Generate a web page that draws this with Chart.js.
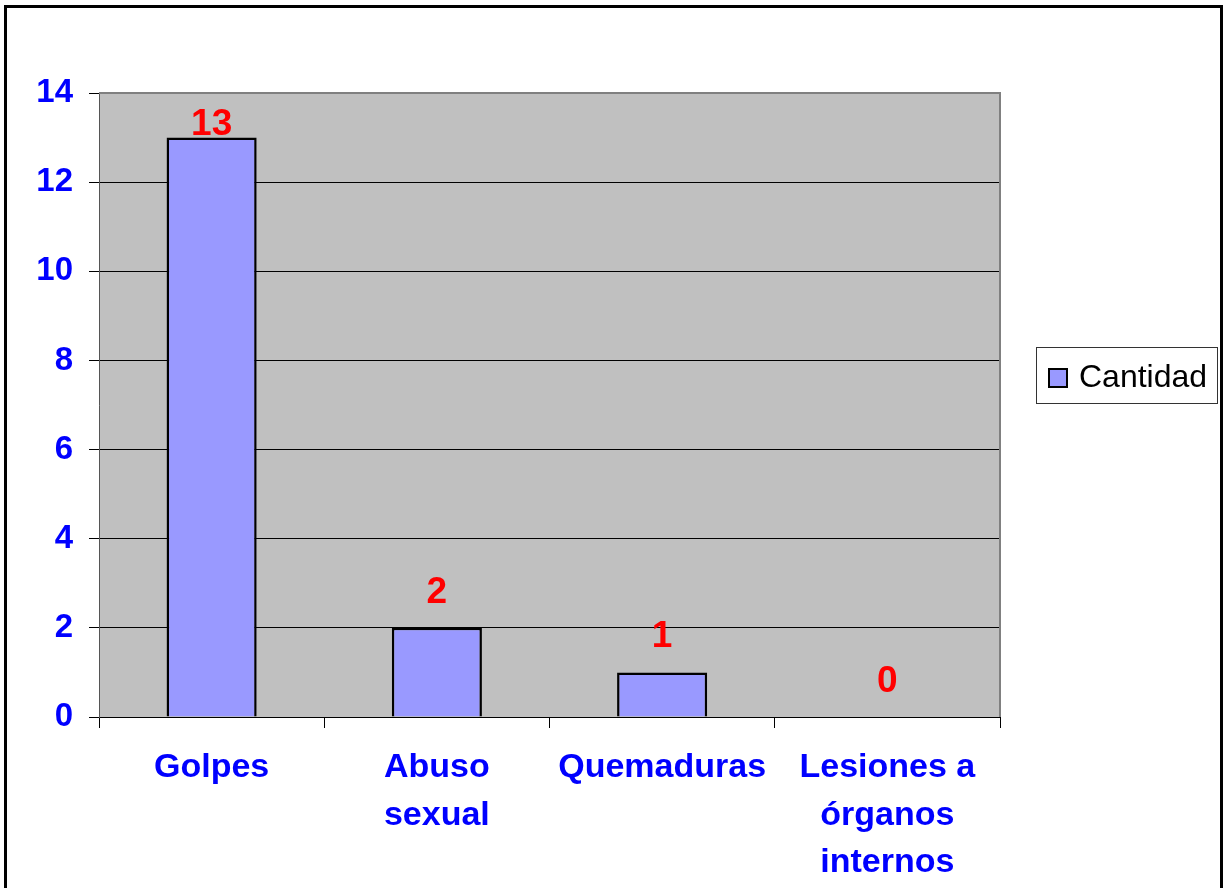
<!DOCTYPE html>
<html>
<head>
<meta charset="utf-8">
<script src="https://cdn.jsdelivr.net/npm/chart.js@4/dist/chart.umd.min.js"></script>
<style>
  html, body { margin: 0; padding: 0; background: #fff; }
  canvas { display: block; }
</style>
</head>
<body>
<canvas id="chart" width="1225" height="888"></canvas>
<script>
// Chart data
const categories = ['Golpes', ['Abuso', 'sexual'], 'Quemaduras', ['Lesiones a', 'órganos', 'internos']];
const cantidad = [13, 2, 1, 0];
const seriesName = 'Cantidad';
const yTickValues = [0, 2, 4, 6, 8, 10, 12, 14];

const FONT = '"Liberation Sans", Arial, sans-serif';
const BAR_COLOR = '#9999FF';

// Background of plot area, frame, data labels and legend box
const excelLook = {
    id: 'excelLook',
    beforeDraw(chart) {
        const ctx = chart.ctx;
        const a = chart.chartArea;
        ctx.save();
        ctx.fillStyle = '#fff';
        ctx.fillRect(0, 0, chart.width, chart.height);
        ctx.fillStyle = '#C0C0C0';
        ctx.fillRect(a.left, a.top, a.right - a.left, a.bottom - a.top);
        ctx.restore();
    },
    afterDatasetsDraw(chart) {
        const ctx = chart.ctx;
        const a = chart.chartArea;
        const meta = chart.getDatasetMeta(0);
        ctx.save();
        ctx.fillStyle = '#FF0000';
        ctx.font = 'bold 37px ' + FONT;
        ctx.textAlign = 'center';
        ctx.textBaseline = 'alphabetic';
        meta.data.forEach(function(bar, i) {
            let y = bar.y - 25;
            if (y < a.top + 42) y = a.top + 42;
            ctx.fillText(String(chart.data.datasets[0].data[i]), bar.x, y);
        });
        ctx.restore();
    },
    afterDraw(chart) {
        const ctx = chart.ctx;
        const a = chart.chartArea;
        ctx.save();
        // gray top / right edge of plot area
        ctx.strokeStyle = '#808080';
        ctx.lineWidth = 2;
        ctx.beginPath();
        ctx.moveTo(a.left, a.top);
        ctx.lineTo(a.right, a.top);
        ctx.lineTo(a.right, a.bottom);
        ctx.stroke();

        // outer frame
        ctx.strokeStyle = '#000';
        ctx.lineWidth = 3;
        ctx.beginPath();
        ctx.moveTo(5.5, 900);
        ctx.lineTo(5.5, 6.5);
        ctx.lineTo(1221.5, 6.5);
        ctx.lineTo(1221.5, 900);
        ctx.stroke();

        // legend
        const ds = chart.data.datasets[0];
        ctx.lineWidth = 1;
        ctx.strokeStyle = '#333';
        ctx.strokeRect(1036.5, 347.5, 181, 56);
        ctx.fillStyle = ds.backgroundColor;
        ctx.fillRect(1048, 368, 20, 20);
        ctx.lineWidth = 2;
        ctx.strokeStyle = '#000';
        ctx.strokeRect(1049, 369, 18, 18);
        ctx.fillStyle = '#000';
        ctx.font = '32px ' + FONT;
        ctx.textAlign = 'left';
        ctx.textBaseline = 'alphabetic';
        ctx.fillText(ds.label, 1079, 387);
        ctx.restore();
    }
};

new Chart(document.getElementById('chart'), {
    type: 'bar',
    data: {
        labels: categories,
        datasets: [{
            label: seriesName,
            data: cantidad,
            backgroundColor: BAR_COLOR,
            borderColor: '#000',
            borderWidth: 2.5,
            categoryPercentage: 1.0,
            barPercentage: 0.4
        }]
    },
    options: {
        responsive: false,
        devicePixelRatio: 1,
        animation: false,
        layout: { padding: { top: 93, right: 225, left: 0, bottom: 0 } },
        plugins: {
            legend: { display: false },
            tooltip: { enabled: false }
        },
        scales: {
            x: {
                afterFit(scale) { scale.height = 171; },
                grid: {
                    offset: true,
                    drawOnChartArea: false,
                    drawTicks: true,
                    tickLength: 11,
                    color: '#000'
                },
                border: { color: '#000', width: 1 },
                ticks: {
                    color: '#0000FF',
                    padding: 16,
                    maxRotation: 0,
                    autoSkip: false,
                    font: { family: FONT, size: 34, weight: 'bold', lineHeight: 1.4 }
                }
            },
            y: {
                min: 0,
                max: 14,
                afterFit(scale) { scale.width = 99; },
                afterBuildTicks(scale) {
                    scale.ticks = yTickValues.map(function(v) { return { value: v }; });
                },
                grid: {
                    color: '#000',
                    lineWidth: 1,
                    drawTicks: true,
                    tickLength: 10
                },
                border: { color: '#555', width: 1 },
                ticks: {
                    color: '#0000FF',
                    padding: 16,
                    font: { family: FONT, size: 33, weight: 'bold' }
                }
            }
        }
    },
    plugins: [excelLook]
});
</script>
</body>
</html>
